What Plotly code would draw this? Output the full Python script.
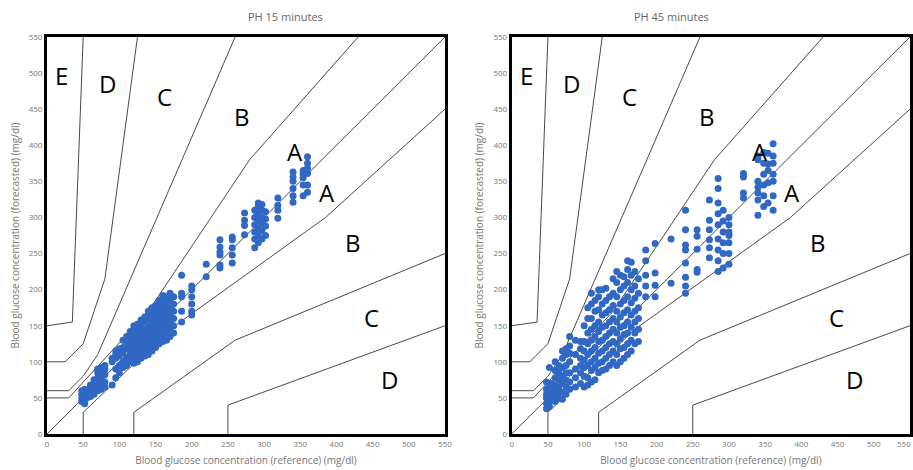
import plotly.graph_objects as go

# ---------------- data ----------------
# PH 15 minutes: reference values (columns) and forecasted values per column
ref15 = [48, 52, 55, 60, 65, 70, 75, 80, 90, 95, 100, 105, 110, 115, 120, 125, 130, 135,
         140, 145, 150, 155, 160, 165, 170, 175, 186, 200, 220, 239, 256, 273, 287, 292,
         297, 302, 319, 340, 354, 360]
pred15 = [
    [45, 50, 55, 60],
    [42, 48, 52, 57, 62],
    [50, 55, 60],
    [52, 58, 62, 68],
    [55, 60, 65, 70, 75],
    [60, 65, 72, 78, 85, 90],
    [62, 70, 75, 80, 88, 92],
    [65, 72, 82, 90, 95],
    [68, 100, 105],
    [78, 90, 105, 110, 115],
    [85, 95, 108, 112, 118],
    [92, 100, 112, 120, 130],
    [95, 105, 118, 125, 135],
    [100, 108, 115, 122, 128, 138, 142],
    [98, 105, 112, 120, 128, 135, 145, 150],
    [100, 110, 118, 125, 132, 140, 148, 152],
    [105, 112, 120, 128, 135, 142, 150, 158],
    [108, 115, 122, 130, 138, 145, 155, 162],
    [110, 118, 125, 132, 140, 148, 158, 165, 170],
    [115, 122, 130, 138, 145, 152, 160, 168, 175],
    [120, 128, 135, 142, 150, 158, 165, 172, 178],
    [125, 132, 140, 148, 155, 162, 170, 178, 185],
    [128, 135, 145, 152, 160, 168, 175, 185, 192],
    [130, 140, 150, 158, 165, 172, 180, 190],
    [135, 145, 152, 160, 168, 175, 185, 195],
    [140, 150, 160, 170, 180, 190],
    [155, 170, 190, 195, 220],
    [165, 170, 180, 190, 200, 205],
    [218, 235],
    [230, 234, 248, 252, 259, 269],
    [237, 248, 258, 269, 273],
    [276, 289, 296, 306],
    [258, 270, 280, 290, 300, 310],
    [265, 275, 285, 295, 305, 315, 320],
    [270, 282, 292, 300, 310, 318],
    [275, 288, 298, 308],
    [299, 310, 317, 327],
    [321, 330, 340, 350, 356, 363],
    [330, 345, 355, 360, 365],
    [335, 345, 361, 368, 375, 384],
]

# PH 45 minutes
ref45 = [48, 52, 55, 60, 65, 70, 75, 80, 88, 95, 100, 105, 110, 115, 120, 125, 130, 135,
         140, 145, 150, 155, 160, 165, 170, 175, 185, 198, 220, 240, 256, 273, 285, 292,
         300, 320, 340, 348, 354, 361]
pred45 = [
    [35, 42, 50, 55, 62, 72],
    [38, 45, 52, 58, 65, 92],
    [48, 55, 62, 70],
    [45, 52, 60, 68, 78, 88, 100],
    [50, 58, 65, 75, 85, 95],
    [48, 58, 70, 80, 92, 105, 115],
    [55, 65, 75, 85, 95, 110, 118],
    [62, 72, 85, 100, 112, 122, 135],
    [65, 78, 90, 110, 130],
    [70, 85, 95, 105, 118, 128],
    [65, 80, 92, 102, 115, 128, 150],
    [68, 78, 95, 110, 125, 140, 160, 175],
    [72, 88, 100, 115, 130, 145, 160, 180, 195],
    [75, 92, 105, 120, 135, 150, 170, 185],
    [85, 98, 112, 128, 142, 155, 172, 190, 200],
    [88, 100, 115, 130, 148, 165, 180, 200],
    [90, 105, 120, 135, 150, 168, 185, 202],
    [95, 110, 125, 140, 155, 172, 190],
    [100, 115, 128, 145, 160, 178, 195, 215],
    [95, 110, 125, 140, 155, 170, 190, 210, 225],
    [100, 118, 132, 148, 162, 180, 200, 220],
    [105, 120, 138, 150, 168, 185, 205, 218],
    [110, 125, 140, 155, 172, 190, 210, 228, 240],
    [115, 130, 148, 165, 182, 200, 220, 238],
    [125, 140, 155, 170, 188, 205, 225],
    [128, 145, 160, 175, 195, 215],
    [190, 205, 220, 240, 255],
    [190, 206, 223, 264],
    [209, 270],
    [195, 205, 217, 237, 255, 262, 283, 310],
    [224, 228, 256, 274, 283],
    [244, 258, 269, 283, 296, 324],
    [225, 240, 255, 270, 290, 305, 320, 340, 354],
    [230, 250, 265, 280, 295, 310],
    [235, 250, 265, 275, 280, 290, 300],
    [327, 334, 356, 361],
    [303, 324, 334, 342, 350, 380, 385],
    [315, 330, 345, 360, 375, 390],
    [320, 348, 365, 374, 389],
    [310, 330, 350, 360, 375, 385, 402],
]

# Parkes error grid (type 1) zone boundaries
zone_a_upper = [(0, 50), (30, 50), (140, 170), (280, 380), (430, 550)]
zone_a_lower = [(50, 0), (50, 30), (170, 145), (385, 300), (550, 450)]
zone_b_upper = [(0, 60), (30, 60), (50, 80), (70, 110), (260, 550)]
zone_b_lower = [(120, 0), (120, 30), (260, 130), (550, 250)]
zone_c_upper = [(0, 100), (25, 100), (50, 125), (80, 215), (125, 550)]
zone_c_lower = [(250, 0), (250, 40), (550, 150)]
zone_d_upper = [(0, 150), (35, 155), (50, 550)]
identity = [(0, 0), (550, 550)]
boundaries = [zone_d_upper, zone_c_upper, zone_b_upper, zone_a_upper, identity,
              zone_a_lower, zone_b_lower, zone_c_lower]

zone_labels = ["E", "D", "C", "B", "A", "A", "B", "C", "D"]
zone_label_x = [20, 83, 163, 269, 343, 387, 423, 449, 474]
zone_label_y = [497, 486, 468, 440, 392, 334, 265, 161, 76]

titles = ["PH 15 minutes", "PH 45 minutes"]
tick_vals = list(range(0, 551, 50))

# ---------------- figure ----------------
fig = go.Figure()
panels = [(ref15, pred15, "x", "y"), (ref45, pred45, "x2", "y2")]
for refs, preds, xa, ya in panels:
    for b in boundaries:
        fig.add_trace(go.Scatter(x=[p[0] for p in b], y=[p[1] for p in b], mode="lines",
                                 line=dict(color="#4a4a4a", width=1), xaxis=xa, yaxis=ya,
                                 hoverinfo="skip", showlegend=False))
    xs, ys = [], []
    for r, col in zip(refs, preds):
        for v in col:
            xs.append(r)
            ys.append(v)
    fig.add_trace(go.Scatter(x=xs, y=ys, mode="markers",
                             marker=dict(color="#3068c4", size=7),
                             xaxis=xa, yaxis=ya, showlegend=False))

axis_common = dict(range=[0, 550], tickvals=tick_vals, showgrid=False, zeroline=False,
                   showline=True, linecolor="black", linewidth=3, mirror=True, ticks="",
                   automargin=False,
                   tickfont=dict(family="Open Sans", size=8, color="#777777"),
                   title_font=dict(family="Open Sans", size=10, color="#777777"))

xdoms = [[0.0515, 0.4874], [0.5605, 0.9967]]
ydom = [0.0766, 0.9213]

layout = dict(width=913, height=470, margin=dict(l=0, r=0, t=0, b=0, pad=0),
              plot_bgcolor="white", paper_bgcolor="white", showlegend=False)
for i, suffix in enumerate(["", "2"]):
    layout["xaxis" + suffix] = dict(axis_common, domain=xdoms[i], anchor="y" + suffix,
                                    title=dict(text="Blood glucose concentration (reference) (mg/dl)",
                                               standoff=10))
    layout["yaxis" + suffix] = dict(axis_common, domain=ydom, anchor="x" + suffix,
                                    title=dict(text="Blood glucose concentration (forecasted) (mg/dl)",
                                               standoff=8))
fig.update_layout(**layout)

annotations = []
for i, suffix in enumerate(["", "2"]):
    for t, lx, ly in zip(zone_labels, zone_label_x, zone_label_y):
        annotations.append(dict(x=lx, y=ly, xref="x" + suffix, yref="y" + suffix, text=t,
                                showarrow=False, font=dict(family="Open Sans", size=24, color="black")))
    annotations.append(dict(x=(xdoms[i][0] + xdoms[i][1]) / 2, y=1 - 16 / 470, xref="paper",
                            yref="paper", text=titles[i], showarrow=False, yanchor="middle",
                            font=dict(family="Open Sans", size=11, color="#666666")))
# last tick label of the right panel sits at the page edge; keep it inside the page
annotations.append(dict(x=tick_vals[-1], y=1 - 443 / 470, xref="x2", yref="paper",
                        text=str(tick_vals[-1]), showarrow=False, xanchor="right",
                        xshift=3, yanchor="middle",
                        font=dict(family="Open Sans", size=8, color="#777777")))
fig.update_layout(annotations=annotations)

fig.write_html("out.html")
